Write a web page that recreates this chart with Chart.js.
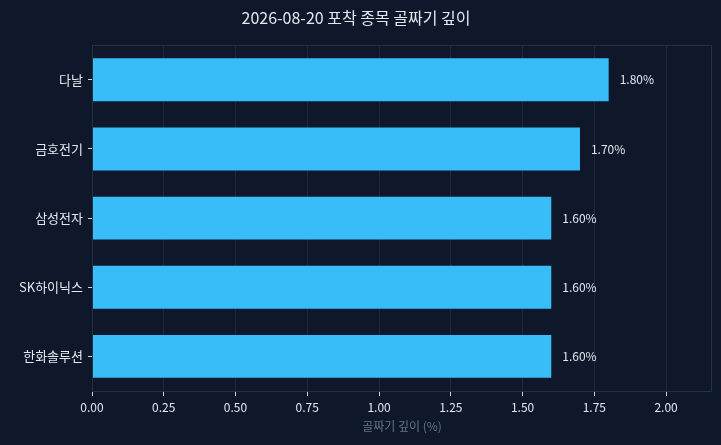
<!DOCTYPE html>
<html><head><meta charset="utf-8">
<script src="https://cdn.jsdelivr.net/npm/chart.js@4.4.1/dist/chart.umd.min.js"></script>
<style>html,body{margin:0;padding:0;background:#0f172a;}#wrap{width:721px;height:445px;}</style>
</head><body><div id="wrap"><canvas id="c" width="721" height="445"></canvas></div>
<script>
const categories = ['다날', '금호전기', '삼성전자', 'SK하이닉스', '한화솔루션'];
const depthValues = [1.80, 1.70, 1.60, 1.60, 1.60];
const xTicks = [0, 0.25, 0.5, 0.75, 1.0, 1.25, 1.5, 1.75, 2.0];
const titleText = '2026-08-20 포착 종목 골짜기 깊이';
const xTitle = '골짜기 깊이 (%)';

const FONT = "'Noto Sans CJK KR', 'Noto Sans', sans-serif";

const valueLabels = {
  id: 'valueLabels',
  afterDatasetsDraw(chart) {
    const ctx = chart.ctx;
    const meta = chart.getDatasetMeta(0);
    ctx.save();
    ctx.font = "12px " + FONT;
    ctx.fillStyle = '#e2e8f0';
    ctx.textBaseline = 'middle';
    ctx.textAlign = 'left';
    meta.data.forEach((bar, i) => {
      ctx.fillText(depthValues[i].toFixed(2) + '%', bar.x + 11, bar.y);
    });
    ctx.restore();
  }
};
const frame = {
  id: 'frame',
  beforeDraw(chart) {
    const ctx = chart.ctx;
    ctx.save();
    ctx.fillStyle = '#0f172a';
    ctx.fillRect(0, 0, chart.width, chart.height);
    ctx.restore();
  },
  afterDatasetsDraw(chart) {
    const a = chart.chartArea, ctx = chart.ctx;
    ctx.save();
    ctx.strokeStyle = '#243044';
    ctx.lineWidth = 1;
    ctx.strokeRect(Math.round(a.left) + 0.5, Math.round(a.top) + 0.5, Math.round(a.right - a.left) - 1, Math.round(a.bottom - a.top));
    ctx.restore();
  }
};

new Chart(document.getElementById('c'), {
  type: 'bar',
  data: {
    labels: categories,
    datasets: [{
      data: depthValues,
      backgroundColor: '#38bdf8',
      borderWidth: 0,
      barPercentage: 0.62,
      categoryPercentage: 1.0
    }]
  },
  options: {
    indexAxis: 'y',
    responsive: false,
    animation: false,
    devicePixelRatio: 1,
    layout: { padding: { left: 0, right: 9, top: 0, bottom: 7 } },
    plugins: {
      legend: { display: false },
      tooltip: { enabled: false },
      title: {
        display: true,
        text: titleText,
        color: '#e2e8f0',
        font: { family: FONT, size: 16, weight: 'normal' },
        padding: { top: 8, bottom: 18 }
      }
    },
    scales: {
      x: {
        min: 0,
        max: 2.16,
        afterBuildTicks(axis) { axis.ticks = xTicks.map(v => ({ value: v })); },
        afterFit(axis) { axis.height = 47; },
        ticks: {
          color: '#e2e8f0',
          font: { family: FONT, size: 12 },
          padding: 4,
          callback: (v) => Number(v).toFixed(2)
        },
        grid: { color: '#1e293b', lineWidth: 1, drawTicks: true, tickLength: 5, tickColor: '#cbd5e1' },
        border: { display: false },
        title: { display: true, text: xTitle, color: '#64748b', font: { family: FONT, size: 12 }, padding: { top: 2 } }
      },
      y: {
        afterFit(axis) { axis.width = 92; },
        ticks: {
          color: '#e2e8f0',
          font: { family: FONT, size: 13 },
          padding: 5
        },
        grid: { display: true, offset: false, drawOnChartArea: false, drawTicks: true, tickLength: 4, tickColor: '#cbd5e1', color: '#cbd5e1' },
        border: { display: false }
      }
    }
  },
  plugins: [frame, valueLabels]
});
</script>
</body></html>
